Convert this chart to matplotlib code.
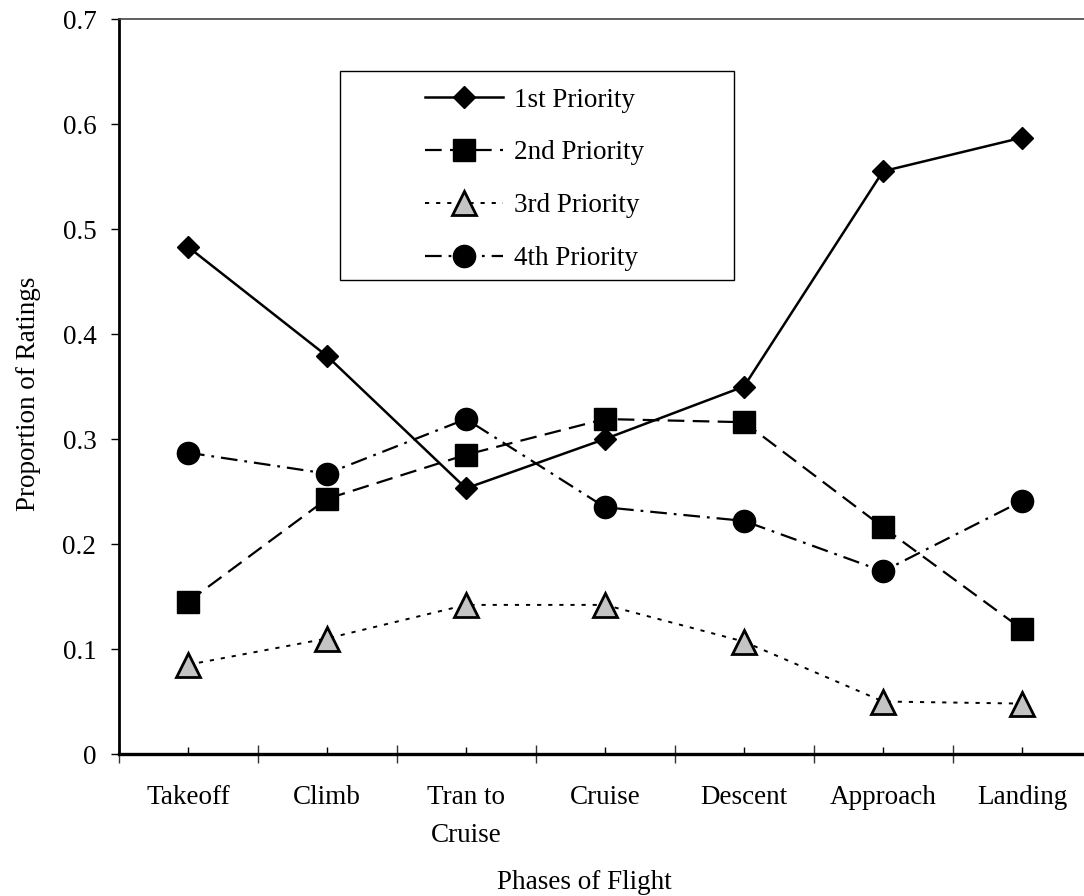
import matplotlib
matplotlib.use('Agg')
import matplotlib.pyplot as plt
import numpy as np
from matplotlib.patches import Rectangle
from matplotlib.ticker import FixedLocator

plt.rcParams['font.family'] = ['Liberation Serif', 'DejaVu Serif']
plt.rcParams['font.size'] = 19.5
plt.rcParams['lines.scale_dashes'] = False

# data
fases = ['Takeoff', 'Climb', 'Tran to\nCruise', 'Cruise', 'Descent', 'Approach', 'Landing']
prioridad_1 = [0.483, 0.379, 0.253, 0.300, 0.350, 0.555, 0.587]
prioridad_2 = [0.145, 0.243, 0.285, 0.319, 0.316, 0.216, 0.119]
prioridad_3 = [0.085, 0.110, 0.142, 0.142, 0.107, 0.050, 0.048]
prioridad_4 = [0.287, 0.267, 0.319, 0.235, 0.222, 0.174, 0.241]
etiquetas = ['1st Priority', '2nd Priority', '3rd Priority', '4th Priority']
yticks = [0, 0.1, 0.2, 0.3, 0.4, 0.5, 0.6, 0.7]
ytick_labels = ['0', '0.1', '0.2', '0.3', '0.4', '0.5', '0.6', '0.7']

W, H = 1084, 896
fig = plt.figure(figsize=(W / 100, H / 100), dpi=100)
ax = fig.add_axes([118.5 / W, 142 / H, 973 / W, 735 / H])

x = np.arange(len(fases))

ax.plot(x, prioridad_1, color='black', lw=1.8, ls='-',
        marker='D', ms=11.5, mfc='black', mec='black', label=etiquetas[0], zorder=3)
ax.plot(x, prioridad_2, color='black', lw=1.6, ls=(0, (12, 6)),
        marker='s', ms=15.5, mfc='black', mec='black', label=etiquetas[1], zorder=3)
ax.plot(x, prioridad_3, color='black', lw=1.4, ls=(0, (3, 5)),
        marker='^', ms=17, mfc='#c4c4c4', mec='black', mew=2, label=etiquetas[2], zorder=3)
ax.plot(x, prioridad_4, color='black', lw=1.6, ls=(0, (12, 5, 2, 5)),
        marker='o', ms=16, mfc='black', mec='black', label=etiquetas[3], zorder=3)

ax.set_xlim(-0.5, len(fases) - 0.5)
ax.set_ylim(0, 0.7)

# x: boundary ticks crossing the axis, category ticks inside with labels
ax.xaxis.set_major_locator(FixedLocator(np.arange(-0.5, len(fases), 1.0)))
ax.xaxis.set_major_formatter(plt.NullFormatter())
ax.set_xticks(x, labels=fases, minor=True)
ax.tick_params(axis='x', which='major', direction='inout', length=13, width=1, color='#333333')
ax.tick_params(axis='x', which='minor', direction='in', length=5, width=1, pad=22)

ax.set_yticks(yticks, labels=ytick_labels)
ax.tick_params(axis='y', direction='out', length=6, width=1, pad=10)

for lab in ax.get_xticklabels(minor=True):
    lab.set_linespacing(1.7)

ax.spines['left'].set_linewidth(2)
ax.spines['bottom'].set_linewidth(2.4)
ax.spines['top'].set_linewidth(1.2)
ax.spines['top'].set_color('#444444')
ax.spines['right'].set_linewidth(1.2)

ax.set_ylabel('Proportion of Ratings')
ax.yaxis.set_label_coords(-0.08, 0.49)
ax.set_xlabel('Phases of Flight')
ax.xaxis.set_label_coords(0.479, -0.158)

ley = ax.legend(loc='upper left', bbox_to_anchor=(411 / W, 1 - 74 / H),
                bbox_transform=fig.transFigure, frameon=False, borderpad=0,
                handlelength=2.9, handletextpad=0.4, labelspacing=1.03)
fig.patches.append(Rectangle((340 / W, 1 - 280 / H), 394 / W, 209 / H,
                             transform=fig.transFigure, fill=False,
                             edgecolor='black', lw=1.0, zorder=2))

fig.savefig('out.png', dpi=100)
